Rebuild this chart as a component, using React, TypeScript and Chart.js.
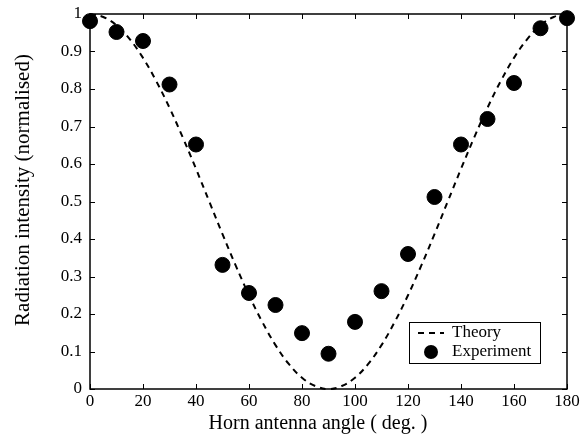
import React, { useEffect, useRef } from "react";
import { Chart, registerables } from "chart.js";

Chart.register(...registerables);

const theoryAngles = [0,5,10,15,20,25,30,35,40,45,50,55,60,65,70,75,80,85,90,95,100,105,110,115,120,125,130,135,140,145,150,155,160,165,170,175,180];
const theoryValues = [1,0.992,0.970,0.933,0.883,0.821,0.750,0.671,0.587,0.500,0.413,0.329,0.250,0.179,0.117,0.067,0.030,0.008,0,0.008,0.030,0.067,0.117,0.179,0.250,0.329,0.413,0.500,0.587,0.671,0.750,0.821,0.883,0.933,0.970,0.992,1];
const expAngles = [0,10,20,30,40,50,60,70,80,90,100,110,120,130,140,150,160,170,180];
const expValues = [0.981,0.952,0.928,0.812,0.652,0.331,0.256,0.224,0.149,0.094,0.179,0.261,0.36,0.512,0.652,0.72,0.816,0.962,0.989];
const xTicks = [0,20,40,60,80,100,120,140,160,180];
const yTicks = [0,0.1,0.2,0.3,0.4,0.5,0.6,0.7,0.8,0.9,1];
const xTitle = "Horn antenna angle ( deg. )";
const yTitle = "Radiation intensity (normalised)";

const FONT = "'Liberation Serif', 'DejaVu Serif', serif";

const framePlugin = {
  id: "frame",
  afterDatasetsDraw(chart: any) {
    const { ctx, chartArea: a, scales } = chart;
    ctx.save();
    ctx.strokeStyle = "#000";
    ctx.lineWidth = 1.5;
    ctx.strokeRect(a.left, a.top, a.right - a.left, a.bottom - a.top);
    ctx.lineWidth = 1;
    const L = 5;
    ctx.beginPath();
    for (const t of xTicks) {
      const x = Math.round(scales.x.getPixelForValue(t)) + 0.5;
      ctx.moveTo(x, a.bottom); ctx.lineTo(x, a.bottom - L);
      ctx.moveTo(x, a.top); ctx.lineTo(x, a.top + L);
    }
    for (const t of yTicks) {
      const y = Math.round(scales.y.getPixelForValue(t)) + 0.5;
      ctx.moveTo(a.left, y); ctx.lineTo(a.left + L, y);
      ctx.moveTo(a.right, y); ctx.lineTo(a.right - L, y);
    }
    ctx.stroke();

    // axis titles
    ctx.fillStyle = "#000";
    ctx.textAlign = "center";
    ctx.textBaseline = "middle";
    ctx.font = `20px ${FONT}`;
    ctx.fillText(xTitle, 318, 424);
    ctx.save();
    ctx.translate(23, 190);
    ctx.rotate(-Math.PI / 2);
    ctx.font = `21px ${FONT}`;
    ctx.fillText(yTitle, 0, 0);
    ctx.restore();

    // legend
    const bx = 409, by = 322, bw = 131, bh = 41;
    ctx.fillStyle = "#fff";
    ctx.fillRect(bx, by, bw, bh);
    ctx.lineWidth = 1;
    ctx.strokeRect(bx + 0.5, by + 0.5, bw, bh);
    ctx.beginPath();
    ctx.setLineDash([6, 5]);
    ctx.lineWidth = 2;
    ctx.moveTo(418, 333); ctx.lineTo(444, 333);
    ctx.stroke();
    ctx.setLineDash([]);
    ctx.fillStyle = "#000";
    ctx.beginPath();
    ctx.arc(431, 352, 7, 0, Math.PI * 2);
    ctx.fill();
    ctx.font = `17px ${FONT}`;
    ctx.textBaseline = "middle";
    ctx.textAlign = "left";
    ctx.fillText(chart.data.datasets[0].label, 452, 333);
    ctx.fillText(chart.data.datasets[1].label, 452, 352);
    ctx.restore();
  },
};

export default function App() {
  const ref = useRef<HTMLCanvasElement>(null);
  useEffect(() => {
    document.body.style.margin = "0";
    const chart = new Chart(ref.current!, {
      type: "scatter",
      data: {
        datasets: [
          {
            label: "Theory",
            data: theoryAngles.map((x, i) => ({ x, y: theoryValues[i] })),
            showLine: true,
            borderColor: "#000",
            borderWidth: 2,
            borderDash: [6, 5],
            pointRadius: 0,
            tension: 0.4,
            fill: false,
            clip: false,
          },
          {
            label: "Experiment",
            data: expAngles.map((x, i) => ({ x, y: expValues[i] })),
            showLine: false,
            backgroundColor: "#000",
            borderColor: "#000",
            pointRadius: 7.5,
            pointHoverRadius: 7.5,
            clip: false,
          },
        ],
      },
      options: {
        animation: false,
        responsive: false,
        events: [],
        layout: { padding: { top: 14, right: 14, left: 0, bottom: 0 } },
        plugins: { legend: { display: false }, tooltip: { enabled: false } },
        scales: {
          x: {
            type: "linear",
            min: 0,
            max: 180,
            afterBuildTicks: (s: any) => { s.ticks = xTicks.map((v) => ({ value: v })); },
            afterFit: (s: any) => { s.height = 53; s.paddingLeft = 0; s.paddingRight = 0; },
            grid: { display: false, drawTicks: false },
            border: { display: false },
            ticks: { color: "#000", font: { family: FONT, size: 17 }, padding: 2, maxRotation: 0 },
          },
          y: {
            type: "linear",
            min: 0,
            max: 1,
            afterBuildTicks: (s: any) => { s.ticks = yTicks.map((v) => ({ value: v })); },
            afterFit: (s: any) => { s.width = 90; s.paddingTop = 0; s.paddingBottom = 0; },
            grid: { display: false, drawTicks: false },
            border: { display: false },
            ticks: { color: "#000", font: { family: FONT, size: 17 }, padding: 8, callback: (v: any) => String(v) },
          },
        },
      },
      plugins: [framePlugin],
    });
    return () => chart.destroy();
  }, []);
  return (
    <div style={{ width: 581, height: 442 }}>
      <canvas ref={ref} width={581} height={442} />
    </div>
  );
}
